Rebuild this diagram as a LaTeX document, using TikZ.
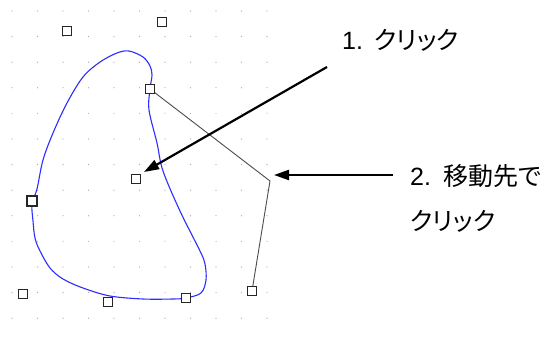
\documentclass[tikz,border=0pt]{standalone}
\usepackage{fontspec}
\setmainfont[RawFeature=+palt]{Noto Sans CJK JP}
\newfontfamily\latinfont{Liberation Sans}
\usetikzlibrary{arrows.meta}
\definecolor{curveblue}{RGB}{45,45,255}
\tikzset{
  handle/.style={draw=black!85, fill=white, line width=1.2pt, minimum size=9.5pt, inner sep=0pt, rectangle},
  boldhandle/.style={handle, line width=2pt},
  bluecurve/.style={draw=curveblue, line width=1.1pt},
  grayline/.style={draw=black!70, line width=0.9pt},
  callout/.style={draw=black, line width=2.2pt, -{Triangle[length=15pt,width=10pt]}},
  lbl/.style={anchor=west, inner sep=0pt, font=\fontsize{25}{30}\selectfont},
  griddot/.style={fill=black!35}
}
\begin{document}
\begin{tikzpicture}[x=1pt,y=-1pt]
\useasboundingbox (0,0) rectangle (558,342);
\fill[white] (0,0) rectangle (558,342);
% grid dots
\foreach \i in {0,...,10}{
  \foreach \j in {0,...,12}{
    \fill[griddot] ({12+25.5*\i},{11+25.6*\j}) circle (0.6pt);
  }
}
% handle positions
\coordinate (p1) at (67,31);
\coordinate (p2) at (162,22);
\coordinate (p3) at (150,89);
\coordinate (p4) at (136,179);
\coordinate (p5) at (32,201);
\coordinate (p6) at (23,294);
\coordinate (p7) at (108,302);
\coordinate (p8) at (186,298);
\coordinate (p9) at (252,291);
\coordinate (corner) at (270,181);
% blue closed curve
\draw[bluecurve] plot[smooth cycle, tension=0.55] coordinates {
  (129,51) (143,57) (150,66) (152,75) (150,89) (149,110) (157,143) (163,171)
  (180,211) (200,251) (205,264) (206,280) (201,293) (186,298) (173,299)
  (143,299) (110,296) (83,288) (63,279) (50,268) (40,251) (35,238) (33,221)
  (32,204) (37,189) (43,160) (53,133) (67,103) (83,77) (100,62) (117,53)};
% gray polyline
\draw[grayline] (p3) -- (corner) -- (p9);
% handles
\node[handle] (h1) at (p1) {};
\node[handle] (h2) at (p2) {};
\node[handle] (h3) at (p3) {};
\node[handle] (h4) at (p4) {};
\node[boldhandle] (h5) at (p5) {};
\node[handle] (h6) at (p6) {};
\node[handle] (h7) at (p7) {};
\node[handle] (h8) at (p8) {};
\node[handle] (h9) at (p9) {};
% labels
\node[lbl] (t1) at (342,40) {{\latinfont 1.}\hspace{11pt}クリック};
\node[lbl] (t2) at (410,176) {{\latinfont 2.}\hspace{12pt}移動先で};
\node[lbl] (t3) at (410,221) {クリック};
% callout arrows
\coordinate (a1s) at (327,67);
\coordinate (a1e) at (144,172);
\coordinate (a2s) at (393,175);
\coordinate (a2e) at (274,175);
\draw[callout] (a1s) -- (a1e);
\draw[callout] (a2s) -- (a2e);
\end{tikzpicture}
\end{document}
